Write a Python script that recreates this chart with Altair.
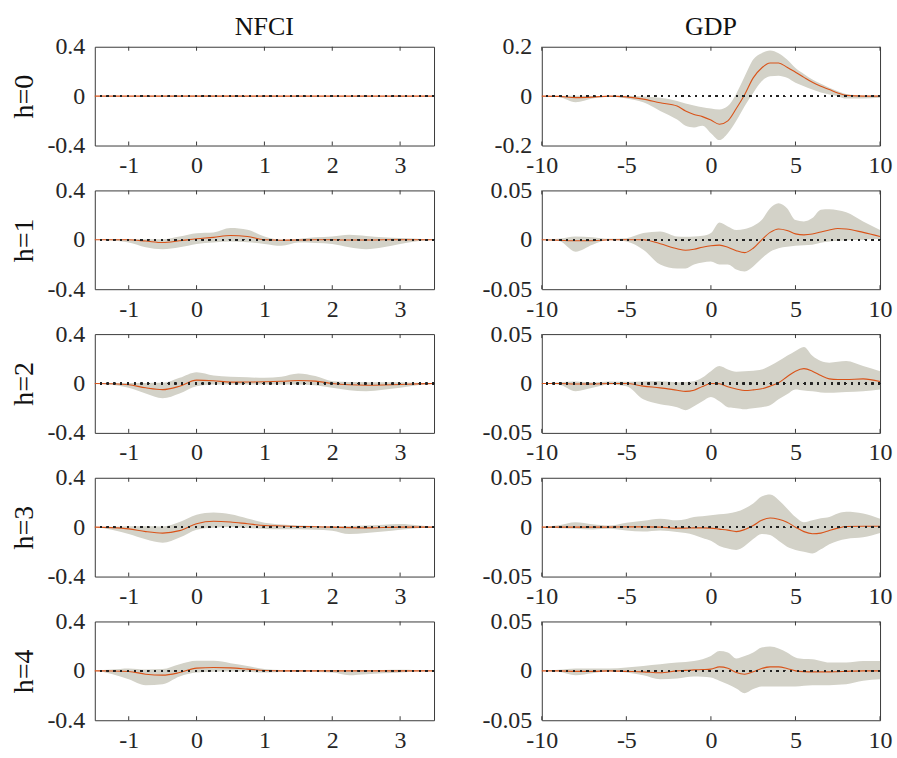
import altair as alt
import pandas as pd

FONT = "Liberation Serif"
BAND = "#d3d2c8"
LINE = "#d95319"
AXIS = "#3a3a3a"
W_L, W_R, H = 340, 339, 99

# ---------------- NFCI (left column) ----------------
nfci_x = [-1.5, -1.25, -1, -0.75, -0.5, -0.25, 0, 0.25, 0.5, 0.75, 1,
          1.25, 1.5, 1.75, 2, 2.25, 2.5, 2.75, 3, 3.25, 3.5]

nfci_h0_mid = [0] * 21
nfci_h0_hi = [0, 0, 0.001, 0.002, 0.003, 0.004, 0.005, 0.005, 0.005, 0.004, 0.003,
              0.002, 0.001, 0.001, 0.001, 0.001, 0.001, 0.001, 0.001, 0, 0]
nfci_h0_lo = [0, 0, -0.001, -0.002, -0.003, -0.004, -0.005, -0.005, -0.005, -0.004, -0.003,
              -0.002, -0.001, -0.001, -0.001, -0.001, -0.001, -0.001, -0.001, 0, 0]

nfci_h1_mid = [0, 0, 0, -0.01, -0.022, -0.008, 0.008, 0.02, 0.035, 0.027, 0.0,
               -0.003, -0.002, 0, 0, -0.002, -0.002, 0, 0, 0, 0]
nfci_h1_hi = [0, 0.002, 0.005, 0.004, 0.005, 0.027, 0.054, 0.06, 0.095, 0.081, 0.027,
              0.0, 0.006, 0.02, 0.027, 0.04, 0.03, 0.02, 0.014, 0.008, 0]
nfci_h1_lo = [0, -0.006, -0.022, -0.06, -0.076, -0.06, -0.033, -0.022, -0.014, -0.02, -0.033,
              -0.049, -0.022, -0.025, -0.033, -0.06, -0.076, -0.06, -0.033, -0.012, 0]

nfci_h2_mid = [0, -0.002, -0.01, -0.035, -0.05, -0.022, 0.027, 0.022, 0.011, 0.012, 0.014,
               0.018, 0.024, 0.019, 0, -0.01, -0.014, -0.012, -0.008, -0.003, 0]
nfci_h2_hi = [0, 0.002, 0.004, 0.004, 0.005, 0.046, 0.092, 0.065, 0.054, 0.05, 0.046,
              0.055, 0.081, 0.06, 0.019, 0.012, 0.011, 0.011, 0.011, 0.006, 0]
nfci_h2_lo = [0, -0.01, -0.035, -0.081, -0.12, -0.081, -0.022, -0.008, -0.008, -0.008, -0.008,
              -0.008, -0.008, -0.015, -0.035, -0.055, -0.062, -0.05, -0.035, -0.015, 0]

nfci_h3_mid = [0, -0.004, -0.014, -0.036, -0.048, -0.028, 0.028, 0.048, 0.042, 0.028, 0.014,
               0.01, 0.006, 0.003, 0, -0.004, -0.006, -0.003, 0, 0, 0]
nfci_h3_hi = [0, 0.004, 0.008, 0.008, 0.006, 0.042, 0.1, 0.118, 0.104, 0.07, 0.036,
              0.022, 0.014, 0.01, 0.008, 0.01, 0.014, 0.02, 0.025, 0.015, 0]
nfci_h3_lo = [0, -0.02, -0.056, -0.098, -0.126, -0.084, -0.02, -0.004, 0, -0.006, -0.014,
              -0.016, -0.016, -0.02, -0.028, -0.056, -0.048, -0.035, -0.02, -0.008, 0]

nfci_h4_mid = [0, -0.001, -0.005, -0.027, -0.035, -0.014, 0.022, 0.027, 0.024, 0.014, 0.003,
               0, 0, 0, 0, 0, 0, 0, 0, 0, 0]
nfci_h4_hi = [0, 0.01, 0.019, 0.01, 0.014, 0.054, 0.081, 0.081, 0.062, 0.04, 0.014,
              0.006, 0.006, 0.006, 0.006, 0.006, 0.006, 0.006, 0.008, 0.005, 0]
nfci_h4_lo = [0, -0.025, -0.068, -0.116, -0.108, -0.046, -0.014, -0.008, -0.005, -0.008, -0.014,
              -0.01, -0.008, -0.01, -0.014, -0.035, -0.027, -0.02, -0.014, -0.006, 0]

# ---------------- GDP (right column) ----------------
gdp_x = [-10, -9, -8, -7, -6, -5, -4, -3, -2, -1.5, -1, -0.5, 0, 0.5, 1, 1.5, 2, 2.5,
         3, 3.5, 4, 4.5, 5, 5.5, 6, 6.5, 7, 7.5, 8, 9, 10]

gdp_h0_mid = [0, -0.001, -0.006, -0.004, 0, -0.003, -0.012, -0.027, -0.04, -0.06, -0.074,
              -0.083, -0.097, -0.114, -0.1, -0.05, 0.007, 0.074, 0.114, 0.134, 0.134,
              0.117, 0.097, 0.076, 0.056, 0.04, 0.027, 0.013, 0.003, 0, 0]
gdp_h0_hi = [0, 0.001, 0.002, 0.001, 0.001, 0.002, -0.002, -0.007, -0.02, -0.03, -0.038,
             -0.045, -0.05, -0.054, -0.04, 0.01, 0.08, 0.148, 0.174, 0.185, 0.174,
             0.148, 0.114, 0.09, 0.067, 0.05, 0.034, 0.02, 0.009, 0.003, 0.002]
gdp_h0_lo = [0, -0.004, -0.025, -0.01, -0.002, -0.01, -0.025, -0.06, -0.095, -0.12, -0.127,
             -0.12, -0.15, -0.178, -0.15, -0.1, -0.04, 0.013, 0.06, 0.08, 0.083,
             0.074, 0.054, 0.04, 0.027, 0.015, 0.007, 0, -0.01, -0.01, -0.007]

gdp_h1_mid = [0, -0.0005, -0.001, -0.001, 0, 0, 0, -0.004, -0.009, -0.0105, -0.0095,
              -0.0075, -0.006, -0.0054, -0.0075, -0.011, -0.013, -0.0085, 0, 0.0075, 0.011,
              0.0095, 0.006, 0.005, 0.0058, 0.008, 0.010, 0.0115, 0.011, 0.0075, 0.0034]
gdp_h1_hi = [0, 0.001, 0.0034, 0.0027, 0.001, 0.0017, 0.0068, 0.0085, 0.0034, 0.003, 0.0034,
             0.004, 0.0068, 0.0176, 0.0136, 0.01, 0.011, 0.014, 0.02, 0.032, 0.037,
             0.032, 0.02, 0.0186, 0.022, 0.0305, 0.031, 0.03, 0.028, 0.0186, 0.01]
gdp_h1_lo = [0, -0.001, -0.012, -0.005, 0, -0.0017, -0.01, -0.025, -0.029, -0.029, -0.025,
             -0.023, -0.022, -0.025, -0.025, -0.03, -0.032, -0.027, -0.019, -0.012, -0.0085,
             -0.007, -0.006, -0.0055, -0.005, -0.003, -0.0017, -0.001, -0.0005, 0, 0.0007]

gdp_h2_mid = [0, 0, -0.0005, -0.0005, 0, 0, -0.0027, -0.0044, -0.0068, -0.008, -0.0068,
              -0.003, 0, -0.0003, -0.0034, -0.0055, -0.0071, -0.0065, -0.0054, -0.0027, 0.0007,
              0.0068, 0.0125, 0.015, 0.0125, 0.008, 0.0047, 0.004, 0.004, 0.0047, 0.002]
gdp_h2_hi = [0, 0.001, 0.002, 0.001, 0.002, 0.0017, 0.002, 0.0023, 0.0013, 0.0015, 0.0023,
             0.006, 0.0125, 0.0176, 0.0142, 0.012, 0.0125, 0.013, 0.0142, 0.018, 0.0227,
             0.028, 0.033, 0.037, 0.028, 0.0227, 0.021, 0.022, 0.0227, 0.0176, 0.0125]
gdp_h2_lo = [0, -0.001, -0.0078, -0.0044, -0.001, -0.0027, -0.016, -0.021, -0.024, -0.027, -0.023,
             -0.018, -0.0136, -0.018, -0.024, -0.025, -0.026, -0.025, -0.024, -0.022, -0.016,
             -0.011, -0.006, -0.007, -0.0078, -0.009, -0.0095, -0.009, -0.0085, -0.0078, -0.006]

gdp_h3_mid = [0, 0, 0, 0, 0, 0.0003, 0.0003, 0, -0.001, -0.001, -0.0007,
              -0.0007, -0.001, -0.002, -0.003, -0.0045, -0.0024, 0.0017, 0.0069, 0.0093, 0.008,
              0.005, 0, -0.0045, -0.0066, -0.006, -0.0034, -0.001, 0.0007, 0.001, 0.001]
gdp_h3_hi = [0, 0.002, 0.005, 0.003, 0.0017, 0.0045, 0.0066, 0.0086, 0.0069, 0.008, 0.0103,
             0.011, 0.012, 0.013, 0.0138, 0.0155, 0.019, 0.024, 0.031, 0.033, 0.0276,
             0.019, 0.0103, 0.005, 0.0069, 0.009, 0.0103, 0.0138, 0.0155, 0.0138, 0.0086]
gdp_h3_lo = [0, -0.001, -0.0017, -0.0024, -0.0017, -0.0034, -0.0045, -0.0034, -0.005, -0.006, -0.008,
             -0.011, -0.0138, -0.019, -0.0217, -0.023, -0.019, -0.012, -0.0069, -0.008, -0.0138,
             -0.0197, -0.023, -0.025, -0.0266, -0.0224, -0.0172, -0.014, -0.012, -0.0103, -0.0059]

gdp_h4_mid = [0, 0, -0.0005, -0.0005, 0, -0.0005, -0.001, -0.002, 0, 0.0005, 0.001,
              0.0013, 0.0017, 0.004, 0.0027, -0.0017, -0.0034, -0.001, 0.0024, 0.004, 0.004,
              0.0024, 0, -0.0008, -0.001, -0.001, -0.001, -0.0008, -0.0005, 0, 0]
gdp_h4_hi = [0, 0.001, 0.0024, 0.0024, 0.0024, 0.0034, 0.005, 0.0067, 0.0084, 0.009, 0.01,
             0.0118, 0.015, 0.02, 0.0185, 0.0125, 0.015, 0.0185, 0.0236, 0.0246, 0.0226,
             0.0185, 0.0135, 0.012, 0.0118, 0.01, 0.0084, 0.0084, 0.0084, 0.01, 0.01]
gdp_h4_lo = [0, -0.001, -0.0044, -0.0024, -0.0005, -0.0017, -0.0044, -0.0084, -0.0077, -0.0065, -0.0057,
             -0.006, -0.0067, -0.01, -0.0135, -0.0178, -0.0226, -0.0185, -0.0158, -0.0158, -0.0158,
             -0.0158, -0.0158, -0.015, -0.0145, -0.0145, -0.0145, -0.014, -0.0135, -0.01, -0.0084]

nfci_xticks = [-1, 0, 1, 2, 3]
gdp_xticks = [-10, -5, 0, 5, 10]
nfci_yticks = [-0.4, 0, 0.4]
gdp0_yticks = [-0.2, 0, 0.2]
gdp_yticks = [-0.05, 0, 0.05]
col_titles = ["NFCI", "GDP"]
row_labels = ["h=0", "h=1", "h=2", "h=3", "h=4"]

LABEL_EXPR = "datum.value == 0 ? '0' : (datum.value < 0 ? '-' : '') + format(abs(datum.value), '~g')"


def panel(x, mid, lo, hi, xdom, xticks, ydom, yticks, width, title=None, rowlabel=None):
    df = pd.DataFrame({"x": x, "mid": mid, "lo": lo, "hi": hi})
    xs = alt.Scale(domain=xdom, nice=False, zero=False)
    ys = alt.Scale(domain=ydom, nice=False, zero=False)
    xaxis = alt.Axis(values=xticks, labelExpr=LABEL_EXPR, labelPadding=8, title=None)
    ykw = dict(values=yticks, labelExpr=LABEL_EXPR, labelPadding=10)
    if rowlabel:
        ykw.update(title=rowlabel, titleFontSize=28, titleFontWeight="normal",
                   titleColor="#111111", titleX=-70, titleY=H / 2, titleAngle=270,
                   titleAlign="center", titleBaseline="middle")
    else:
        ykw.update(title=None)
    yaxis = alt.Axis(**ykw)

    band = alt.Chart(df).mark_area(color=BAND, interpolate="monotone", opacity=1).encode(
        x=alt.X("x:Q", scale=xs, axis=xaxis),
        y=alt.Y("lo:Q", scale=ys, axis=yaxis),
        y2="hi:Q",
    )
    line = alt.Chart(df).mark_line(color=LINE, strokeWidth=1.1, interpolate="monotone").encode(
        x="x:Q", y="mid:Q"
    )
    zero = alt.Chart(df).mark_rule(color="#222222", strokeDash=[1.5, 5.3], strokeWidth=1.4).encode(
        y=alt.Y(datum=0)
    )
    tdf = pd.DataFrame({"x": xticks})
    top_ticks = alt.Chart(tdf).mark_rule(color=AXIS, strokeWidth=1).encode(
        x="x:Q", y=alt.value(0), y2=alt.value(4)
    )
    bot_ticks = alt.Chart(tdf).mark_rule(color=AXIS, strokeWidth=1).encode(
        x="x:Q", y=alt.value(H - 4), y2=alt.value(H)
    )
    ch = alt.layer(band, line, zero, top_ticks, bot_ticks).properties(width=width, height=H)
    if title:
        ch = ch.properties(title=alt.TitleParams(title, fontSize=26, fontWeight="normal",
                                                 color="#111111", offset=-5))
    return ch


nfci = [
    (nfci_h0_mid, nfci_h0_lo, nfci_h0_hi),
    (nfci_h1_mid, nfci_h1_lo, nfci_h1_hi),
    (nfci_h2_mid, nfci_h2_lo, nfci_h2_hi),
    (nfci_h3_mid, nfci_h3_lo, nfci_h3_hi),
    (nfci_h4_mid, nfci_h4_lo, nfci_h4_hi),
]
gdp = [
    (gdp_h0_mid, gdp_h0_lo, gdp_h0_hi),
    (gdp_h1_mid, gdp_h1_lo, gdp_h1_hi),
    (gdp_h2_mid, gdp_h2_lo, gdp_h2_hi),
    (gdp_h3_mid, gdp_h3_lo, gdp_h3_hi),
    (gdp_h4_mid, gdp_h4_lo, gdp_h4_hi),
]

cells = []
for i in range(5):
    m, l, h = nfci[i]
    cells.append(panel(nfci_x, m, l, h, [-1.5, 3.5], nfci_xticks, [-0.4, 0.4], nfci_yticks, W_L,
                       title=col_titles[0] if i == 0 else None, rowlabel=row_labels[i]))
    m, l, h = gdp[i]
    yd = [-0.2, 0.2] if i == 0 else [-0.05, 0.05]
    yt = gdp0_yticks if i == 0 else gdp_yticks
    cells.append(panel(gdp_x, m, l, h, [-10, 10], gdp_xticks, yd, yt, W_R,
                       title=col_titles[1] if i == 0 else None))

chart = alt.concat(*cells, columns=2, spacing={"row": 45, "column": 108}, bounds="flush").properties(
    padding={"left": 10, "top": 12, "right": 4, "bottom": 4}
).configure(background="white").configure_view(
    stroke=AXIS, strokeWidth=1
).configure_axis(
    labelFont=FONT, titleFont=FONT, labelFontSize=24, labelColor="#262626",
    grid=False, ticks=False, domain=False, labelFlush=False, labelOverlap=False, labelBound=False
).configure_title(font=FONT)

chart.save("out.html", embed_options={"renderer": "svg", "actions": False})
